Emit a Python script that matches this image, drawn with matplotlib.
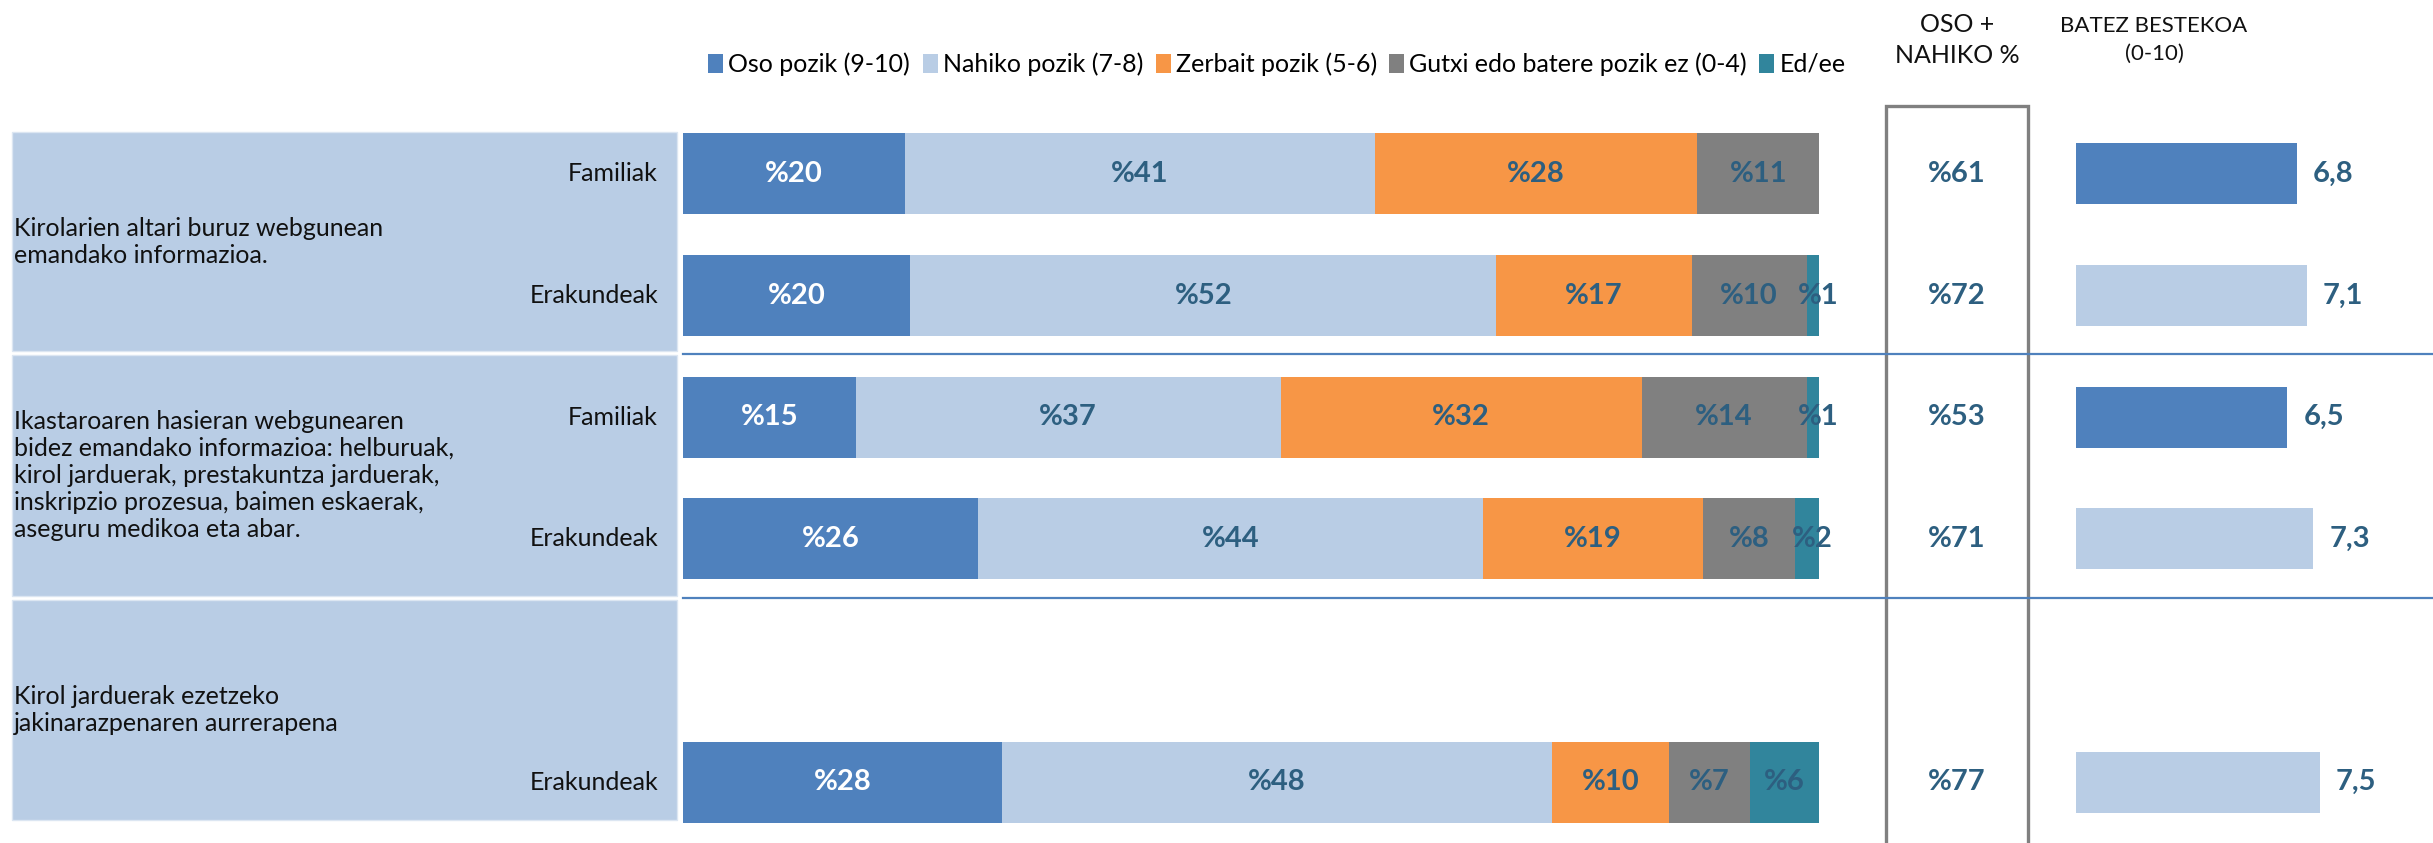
import matplotlib.pyplot as plt
from matplotlib.patches import Rectangle
from matplotlib.lines import Line2D
from matplotlib.transforms import blended_transform_factory

plt.rcParams['font.family'] = ['Lato', 'DejaVu Sans']

W, H, DPI = 2433, 843, 100

# data
categories = ['Oso pozik (9-10)', 'Nahiko pozik (7-8)', 'Zerbait pozik (5-6)',
              'Gutxi edo batere pozik ez (0-4)', 'Ed/ee']
colors = ['#4F81BD', '#B9CDE5', '#F79646', '#808080', '#31859C']

groups = ['Kirolarien altari buruz webgunean\nemandako informazioa.',
          'Ikastaroaren hasieran webgunearen\nbidez emandako informazioa: helburuak,\n'
          'kirol jarduerak, prestakuntza jarduerak,\ninskripzio prozesua, baimen eskaerak,\n'
          'aseguru medikoa eta abar.',
          'Kirol jarduerak ezetzeko\njakinarazpenaren aurrerapena']
respondents = ['Familiak', 'Erakundeak', 'Familiak', 'Erakundeak', 'Erakundeak']
row_pos = [0, 1, 2, 3, 5]

oso_pozik = [19.5, 20.0, 15.2, 26.0, 28.1]
nahiko_pozik = [41.4, 51.6, 37.4, 44.4, 48.4]
zerbait_pozik = [28.4, 17.2, 31.8, 19.4, 10.3]
gutxi = [10.7, 10.1, 14.5, 8.1, 7.1]
ed_ee = [0.0, 1.1, 1.1, 2.1, 6.1]

oso_nahiko = [61, 72, 53, 71, 77]
mean_score = [6.8, 7.1, 6.5, 7.3, 7.5]

# layout (row units) for the grey-blue group boxes and separators
group_spans = [(-0.34, 1.46), (1.49, 3.47), (3.505, 5.31)]
separators = [1.48, 3.49]

label_col = '#2D5F80'
ylim = (5.5, -0.5)
top_px = 113

fig = plt.figure(figsize=(W / DPI, H / DPI), dpi=DPI)
ax_h = (H - top_px) / H

# main stacked bars
ax = fig.add_axes([683 / W, 0, (1819 - 683) / W, ax_h])
series = [oso_pozik, nahiko_pozik, zerbait_pozik, gutxi, ed_ee]
left = [0.0] * len(row_pos)
handles = []
for k, vals in enumerate(series):
    bars = ax.barh(row_pos, vals, left=left, height=0.665, color=colors[k], label=categories[k])
    handles.append(bars)
    for y, l, v in zip(row_pos, left, vals):
        if v > 0:
            # tiny end segments get their label nudged right a little, like the original
            x = l + v / 2 + (0.5 if v < 3 else 0)
            ax.text(x, y, f'%{round(v)}', ha='center', va='center',
                    fontsize=21, fontweight='bold',
                    color='white' if k == 0 else label_col)
    left = [a + b for a, b in zip(left, vals)]
ax.set_xlim(0, 100)
ax.set_ylim(*ylim)
ax.axis('off')

# left label area
ax_l = fig.add_axes([0, 0, 683 / W, ax_h])
ax_l.set_xlim(0, 683)
ax_l.set_ylim(*ylim)
ax_l.axis('off')
for text, (y0, y1) in zip(groups, group_spans):
    ax_l.add_patch(Rectangle((12, y0), 665, y1 - y0, facecolor='#B9CDE5',
                             edgecolor='#DCE6F2', lw=1))
    ax_l.text(14, (y0 + y1) / 2, text, ha='left', va='center', fontsize=18,
              linespacing=1.22, color='#111111')
for y, name in zip(row_pos, respondents):
    ax_l.text(658, y, name, ha='right', va='center', fontsize=18, color='#111111')

# separator lines
tr = blended_transform_factory(fig.transFigure, ax.transData)
for y in separators:
    fig.add_artist(Line2D([683 / W, 1], [y, y], transform=tr, color='#4F81BD', lw=1.6))

# OSO + NAHIKO column
fig.add_artist(Rectangle((1886 / W, -0.02), 142 / W, (H - 106) / H + 0.02,
                         transform=fig.transFigure, facecolor='none',
                         edgecolor='#808080', lw=2.4))
for y, v in zip(row_pos, oso_nahiko):
    fig.text(1957 / W, y, f'%{v}', transform=tr, ha='center', va='center',
             fontsize=21, fontweight='bold', color=label_col)

# mean score bars
ax_r = fig.add_axes([2076 / W, 0, (W - 2076) / W, ax_h])
bar_cols = [colors[0] if r == 'Familiak' else colors[1] for r in respondents]
ax_r.barh(row_pos, mean_score, height=0.5, color=bar_cols)
for y, v in zip(row_pos, mean_score):
    ax_r.text(v + 0.5, y, f'{v:.1f}'.replace('.', ','), ha='left', va='center',
              fontsize=21, fontweight='bold', color=label_col)
ax_r.set_xlim(0, (W - 2076) / 32.5)
ax_r.set_ylim(*ylim)
ax_r.axis('off')

# headers and legend
fig.text(1957 / W, 1 - 40 / H, 'OSO +\nNAHIKO %', ha='center', va='center',
         fontsize=18, linespacing=1.4, color='#111111')
fig.text(2154 / W, 1 - 40 / H, 'BATEZ BESTEKOA\n(0-10)', ha='center', va='center',
         fontsize=16, linespacing=1.5, color='#111111')
fig.legend(handles=handles, labels=categories, loc='center',
           bbox_to_anchor=(1277 / W, 1 - 64 / H), ncol=5, frameon=False,
           fontsize=18, handlelength=0.6, handleheight=0.8, handletextpad=0.2,
           columnspacing=0.5, borderpad=0)

fig.savefig('out.png', dpi=DPI)
